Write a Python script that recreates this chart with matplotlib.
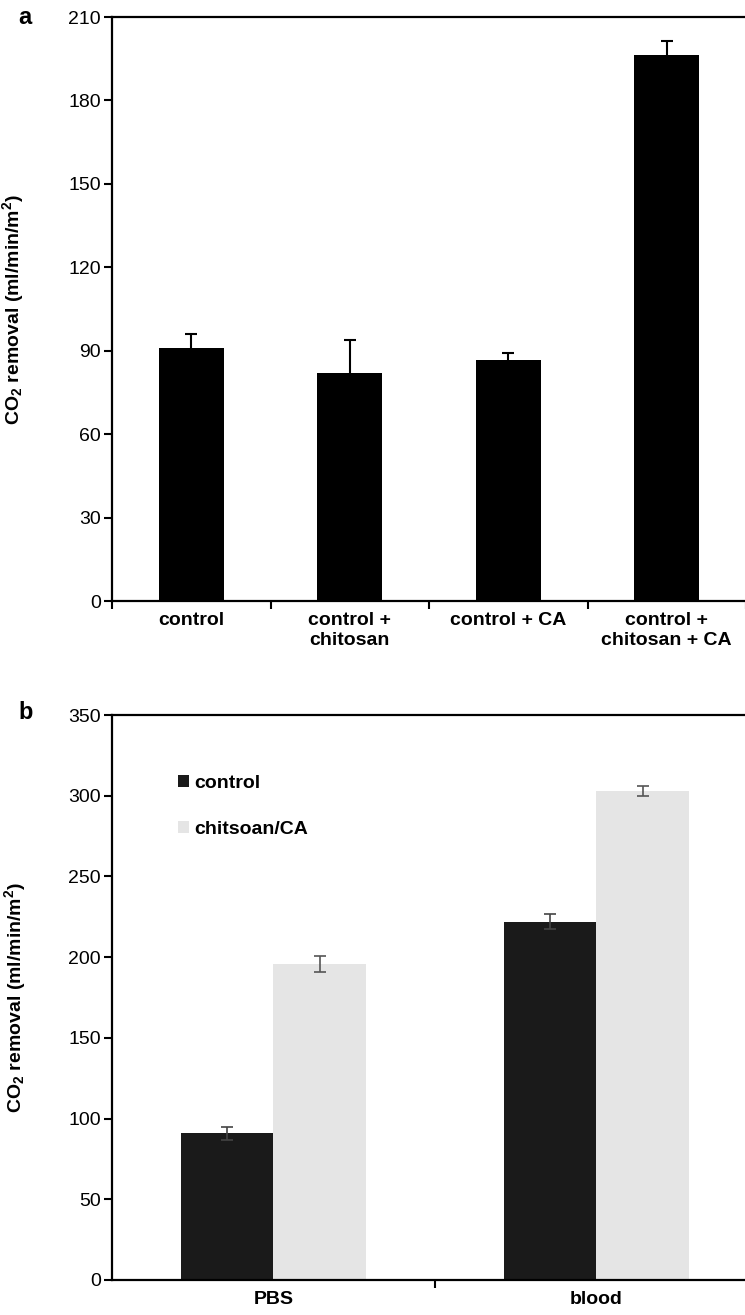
import matplotlib
matplotlib.use('Agg')
import matplotlib.pyplot as plt
import numpy as np

plt.rcParams['font.family'] = ['Liberation Sans', 'DejaVu Sans']
plt.rcParams['mathtext.default'] = 'regular'

# panel a
a_labels = ['control', 'control +\nchitosan', 'control + CA', 'control +\nchitosan + CA']
a_values = [91, 82, 86.5, 196.5]
a_err = [5, 12, 2.5, 5]

# panel b
b_groups = ['PBS', 'blood']
b_control = [91, 222]
b_control_err = [4, 4.5]
b_chito = [196, 303]
b_chito_err = [5, 3]

fig = plt.figure(figsize=(7.45, 13.15), dpi=100)
ylab = 'CO$_2$ removal (ml/min/m$^2$)'


def style_axis(ax):
    ax.spines['right'].set_visible(False)
    for s in ['left', 'bottom', 'top']:
        ax.spines[s].set_linewidth(1.6)
    ax.tick_params(axis='y', direction='out', length=6, width=1.5, labelsize=14, pad=2)
    ax.tick_params(axis='x', which='major', direction='out', length=6, width=1.5, labelbottom=False)
    ax.tick_params(axis='x', which='minor', length=0, labelsize=14, pad=8)
    for t in ax.get_xticklabels(minor=True):
        t.set_fontweight('bold')


'''panel a'''
ax1 = fig.add_axes([112 / 745, 1 - 601 / 1315, 634 / 745, 584 / 1315])
xa = np.arange(len(a_values))
ax1.bar(xa, a_values, width=0.41, color='black', zorder=2)
eb = ax1.errorbar(xa, a_values, yerr=[np.zeros(len(a_err)), a_err], fmt='none',
                  ecolor='black', elinewidth=1.5, capsize=4, capthick=1.5, zorder=1)
eb[1][0].set_visible(False)
ax1.set_xlim(-0.5, len(a_values) - 0.5)
ax1.set_ylim(0, 210)
ax1.set_yticks(np.arange(0, 211, 30))
ax1.set_xticks(np.arange(len(a_values) + 1) - 0.5)
ax1.set_xticks(xa, minor=True)
ax1.set_xticklabels(a_labels, minor=True)
style_axis(ax1)
ax1.set_ylabel(ylab, fontsize=14, fontweight='bold')
ax1.yaxis.set_label_coords(-0.135, 0.5)
fig.text(18 / 745, 1 - 17 / 1315, 'a', fontsize=17, fontweight='bold', va='center', ha='left')

'''panel b'''
ax2 = fig.add_axes([112 / 745, 1 - 1280 / 1315, 646 / 745, 565 / 1315])
xb = np.arange(len(b_groups))
w = 0.285
ax2.bar(xb - w / 2, b_control, width=w, color='#1a1a1a', label='control', zorder=2)
ax2.bar(xb + w / 2, b_chito, width=w, color='#e5e5e5', label='chitsoan/CA', zorder=2)
ax2.errorbar(xb - w / 2, b_control, yerr=b_control_err, fmt='none', ecolor='#444444',
             elinewidth=1.2, capsize=4, capthick=1.2, zorder=3)
ax2.errorbar(xb + w / 2, b_chito, yerr=b_chito_err, fmt='none', ecolor='#555555',
             elinewidth=1.2, capsize=4, capthick=1.2, zorder=3)
ax2.set_xlim(-0.5, len(b_groups) - 0.5)
ax2.set_ylim(0, 350)
ax2.set_yticks(np.arange(0, 351, 50))
ax2.set_xticks([0.5])
ax2.set_xticks(xb, minor=True)
ax2.set_xticklabels(b_groups, minor=True)
style_axis(ax2)
ax2.set_ylabel(ylab, fontsize=14, fontweight='bold')
ax2.yaxis.set_label_coords(-0.13, 0.5)
ax2.legend(loc='upper left', bbox_to_anchor=(0.075, 0.925), frameon=False,
           prop={'size': 14, 'weight': 'bold'},
           handlelength=0.55, handleheight=0.55, handletextpad=0.3, labelspacing=1.5)
fig.text(18 / 745, 1 - 712 / 1315, 'b', fontsize=17, fontweight='bold', va='center', ha='left')

plt.savefig('out.png', dpi=100)
